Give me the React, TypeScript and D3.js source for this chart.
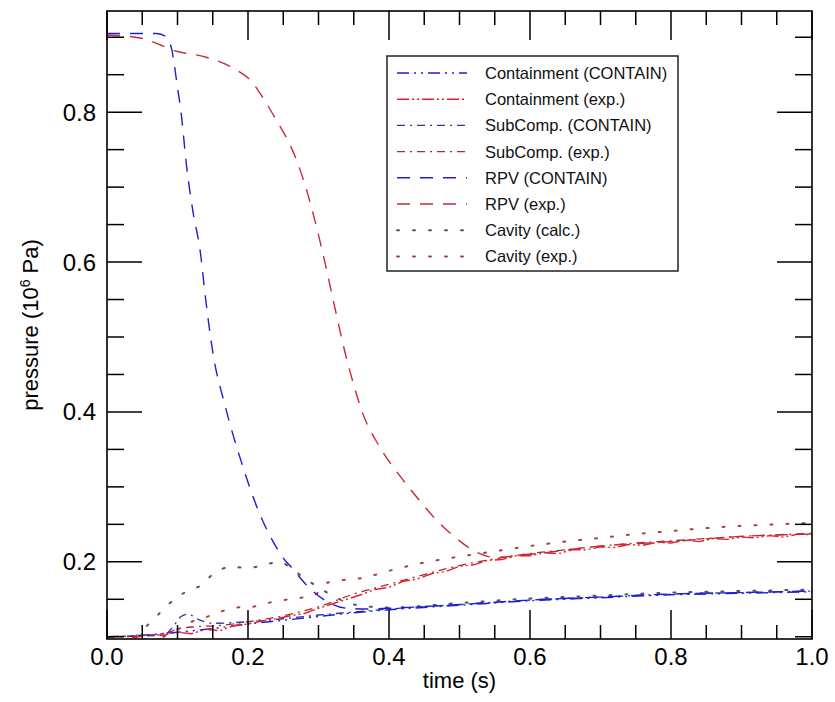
import React from "react";
import * as d3 from "d3";

// ---- data (time in s, pressure in 1e6 Pa) ----
const rpvCalcT = [0, 0.07, 0.085, 0.092, 0.1, 0.105, 0.113, 0.122, 0.132, 0.14, 0.15, 0.167, 0.19, 0.217, 0.235, 0.25, 0.264, 0.28, 0.292, 0.312, 0.34, 0.37, 0.4, 0.5, 0.6, 0.7, 0.8, 0.9, 1.0];
const rpvCalcV = [0.905, 0.905, 0.9, 0.883, 0.833, 0.8, 0.727, 0.667, 0.616, 0.55, 0.48, 0.41, 0.335, 0.263, 0.228, 0.205, 0.19, 0.172, 0.161, 0.147, 0.138, 0.137, 0.138, 0.143, 0.149, 0.153, 0.157, 0.159, 0.161];

const contCalcT = [0, 0.05, 0.1, 0.15, 0.2, 0.25, 0.3, 0.35, 0.4, 0.5, 0.6, 0.7, 0.8, 0.9, 1.0];
const contCalcV = [0.1, 0.102, 0.106, 0.111, 0.117, 0.122, 0.127, 0.132, 0.136, 0.142, 0.148, 0.152, 0.156, 0.158, 0.16];

const subCalcT = [0, 0.08, 0.095, 0.105, 0.115, 0.13, 0.15, 0.2, 0.25, 0.3, 0.35, 0.4, 0.5, 0.6, 0.7, 0.8, 0.9, 1.0];
const subCalcV = [0.1, 0.102, 0.115, 0.127, 0.13, 0.123, 0.118, 0.12, 0.124, 0.129, 0.133, 0.137, 0.143, 0.149, 0.153, 0.157, 0.159, 0.161];

const contExpT = [0, 0.02, 0.04, 0.06, 0.08, 0.1, 0.12, 0.14, 0.16, 0.18, 0.2, 0.22, 0.24, 0.26, 0.28, 0.3, 0.32, 0.34, 0.36, 0.38, 0.4, 0.42, 0.44, 0.46, 0.48, 0.5, 0.52, 0.54, 0.56, 0.58, 0.6, 0.62, 0.64, 0.66, 0.68, 0.7, 0.72, 0.74, 0.76, 0.78, 0.8, 0.82, 0.84, 0.86, 0.88, 0.9, 0.92, 0.94, 0.96, 0.98, 1.0];
const contExpV = [0.1, 0.101, 0.099, 0.103, 0.102, 0.106, 0.104, 0.11, 0.108, 0.115, 0.117, 0.121, 0.124, 0.128, 0.131, 0.138, 0.144, 0.15, 0.156, 0.163, 0.166, 0.174, 0.177, 0.184, 0.187, 0.194, 0.196, 0.202, 0.203, 0.208, 0.208, 0.212, 0.211, 0.216, 0.216, 0.22, 0.219, 0.223, 0.222, 0.226, 0.225, 0.229, 0.227, 0.231, 0.23, 0.233, 0.232, 0.235, 0.233, 0.237, 0.236];

const subExpT = [0, 0.08, 0.1, 0.12, 0.16, 0.2, 0.25, 0.3, 0.35, 0.4, 0.45, 0.5, 0.55, 0.6, 0.65, 0.7, 0.75, 0.8, 0.85, 0.9, 0.95, 1.0];
const subExpV = [0.1, 0.104, 0.11, 0.113, 0.115, 0.12, 0.128, 0.14, 0.157, 0.17, 0.183, 0.195, 0.204, 0.211, 0.216, 0.221, 0.225, 0.228, 0.231, 0.234, 0.236, 0.238];

const rpvExpT = [0, 0.047, 0.1, 0.142, 0.184, 0.203, 0.222, 0.241, 0.255, 0.265, 0.275, 0.285, 0.295, 0.309, 0.323, 0.338, 0.35, 0.362, 0.387, 0.416, 0.444, 0.47, 0.496, 0.52, 0.55, 0.6, 0.7, 0.8, 0.9, 1.0];
const rpvExpV = [0.903, 0.899, 0.881, 0.873, 0.856, 0.843, 0.818, 0.788, 0.765, 0.745, 0.72, 0.69, 0.655, 0.6, 0.54, 0.478, 0.436, 0.4, 0.353, 0.314, 0.281, 0.253, 0.231, 0.215, 0.206, 0.21, 0.221, 0.227, 0.234, 0.237];

const cavCalcT = [0.04, 0.068, 0.088, 0.11, 0.132, 0.155, 0.177, 0.2, 0.221, 0.244, 0.267, 0.29, 0.32, 0.35, 0.4, 0.5, 0.6, 0.7, 0.8, 0.9, 1.0];
const cavCalcV = [0.1, 0.125, 0.144, 0.159, 0.168, 0.187, 0.193, 0.192, 0.195, 0.2, 0.187, 0.172, 0.155, 0.143, 0.139, 0.145, 0.151, 0.155, 0.159, 0.161, 0.163];

const cavExpT = [0.08, 0.1, 0.12, 0.14, 0.16, 0.183, 0.206, 0.228, 0.251, 0.274, 0.295, 0.312, 0.338, 0.36, 0.4, 0.45, 0.5, 0.55, 0.6, 0.65, 0.7, 0.75, 0.8, 0.85, 0.9, 0.95, 1.0];
const cavExpV = [0.1, 0.11, 0.12, 0.126, 0.133, 0.139, 0.14, 0.145, 0.149, 0.152, 0.156, 0.172, 0.176, 0.178, 0.188, 0.199, 0.207, 0.214, 0.221, 0.227, 0.232, 0.237, 0.241, 0.245, 0.248, 0.25, 0.252];

const xTicks = [0, 0.2, 0.4, 0.6, 0.8, 1.0];
const yTicks = [0.2, 0.4, 0.6, 0.8];

const seriesNames = [
  "Containment (CONTAIN)",
  "Containment (exp.)",
  "SubComp. (CONTAIN)",
  "SubComp. (exp.)",
  "RPV (CONTAIN)",
  "RPV (exp.)",
  "Cavity (calc.)",
  "Cavity (exp.)",
];

const DASH_DOT_DOT = "12,5,2,5,2,5";
const DASH_DOT = "8,5,2,5";
const LONG_DASH = "13,10";
const DOTTED = "2,14";

const styles = [
  { color: "#1f1fd0", dash: DASH_DOT_DOT, w: 1.4 },
  { color: "#ee1c24", dash: "12,3,2,3,2,3", w: 1.4 },
  { color: "#33339a", dash: DASH_DOT, w: 1.3 },
  { color: "#9a3030", dash: DASH_DOT, w: 1.3 },
  { color: "#1f1fd0", dash: LONG_DASH, w: 1.4 },
  { color: "#c8283a", dash: LONG_DASH, w: 1.4 },
  { color: "#555555", dash: DOTTED, w: 2 },
  { color: "#a04444", dash: DOTTED, w: 2 },
];

const seriesData: [number[], number[]][] = [
  [contCalcT, contCalcV],
  [contExpT, contExpV],
  [subCalcT, subCalcV],
  [subExpT, subExpV],
  [rpvCalcT, rpvCalcV],
  [rpvExpT, rpvExpV],
  [cavCalcT, cavCalcV],
  [cavExpT, cavExpV],
];

export default function App() {
  const L = 107, R = 812, T = 11, B = 639;
  const x = d3.scaleLinear().domain([0, 1]).range([L, R]);
  const y = d3.scaleLinear().domain([0.097, 0.935]).range([B, T]);

  const xMinor = d3.range(0, 1.0001, 0.05).map((v) => +v.toFixed(2));
  const yMinor = d3.range(0.1, 0.9001, 0.05).map((v) => +v.toFixed(2));

  const makeLine = (i: number) => {
    const [ts, vs] = seriesData[i];
    const pts = ts.map((t, k) => [t, vs[k]] as [number, number]);
    const gen = d3
      .line<[number, number]>()
      .x((d) => x(d[0]))
      .y((d) => y(d[1]))
      .curve(i === 1 ? d3.curveLinear : d3.curveMonotoneX);
    return gen(pts) || "";
  };

  const drawOrder = [6, 7, 3, 2, 0, 4, 1, 5];
  const font = "'Liberation Sans', Arial, Helvetica, sans-serif";

  return (
    <svg
      width={835}
      height={702}
      style={{ position: "absolute", left: 0, top: 0, background: "#fff" }}
      fontFamily={font}
    >
      <rect x={0} y={0} width={835} height={702} fill="#fff" />
      <defs>
        <clipPath id="plotClip">
          <rect x={L} y={T} width={R - L} height={B - T} />
        </clipPath>
      </defs>

      <g clipPath="url(#plotClip)">
        {drawOrder.map((i) => (
          <path
            key={i}
            d={makeLine(i)}
            fill="none"
            stroke={styles[i].color}
            strokeWidth={styles[i].w}
            strokeDasharray={styles[i].dash}
            strokeLinecap={i >= 6 ? "round" : "butt"}
          />
        ))}
      </g>

      {/* ticks */}
      <g stroke="#000" strokeWidth={1.5}>
        {xMinor.map((v) => {
          const major = xTicks.some((m) => Math.abs(m - v) < 1e-6);
          const len = major ? 29 : 14;
          return (
            <g key={"xt" + v}>
              <line x1={x(v)} x2={x(v)} y1={B} y2={B - len} />
              <line x1={x(v)} x2={x(v)} y1={T} y2={T + len} />
            </g>
          );
        })}
        {yMinor.map((v) => {
          const major = yTicks.some((m) => Math.abs(m - v) < 1e-6);
          const len = major ? 35 : 17;
          return (
            <g key={"yt" + v}>
              <line x1={L} x2={L + len} y1={y(v)} y2={y(v)} />
              <line x1={R} x2={R - len} y1={y(v)} y2={y(v)} />
            </g>
          );
        })}
      </g>
      <rect x={L} y={T} width={R - L} height={B - T} fill="none" stroke="#000" strokeWidth={1.6} />

      {/* tick labels */}
      <g fontSize={24} fill="#000">
        {xTicks.map((v) => (
          <text key={"xl" + v} x={x(v)} y={B + 26} textAnchor="middle">
            {v.toFixed(1)}
          </text>
        ))}
        {yTicks.map((v) => (
          <text key={"yl" + v} x={L - 11} y={y(v) + 8.5} textAnchor="end">
            {v.toFixed(1)}
          </text>
        ))}
      </g>

      <text x={(L + R) / 2} y={688} textAnchor="middle" fontSize={22}>
        time (s)
      </text>
      <text transform={`translate(38, ${(T + B) / 2}) rotate(-90)`} textAnchor="middle" fontSize={22}>
        pressure (10
        <tspan baselineShift="super" fontSize={14}>6</tspan>
        <tspan> Pa)</tspan>
      </text>

      {/* legend */}
      <g>
        <rect x={387} y={56} width={291} height={215} fill="#fff" stroke="#222" strokeWidth={1.5} />
        {seriesNames.map((name, i) => {
          const ly = 73 + i * 26.2;
          return (
            <g key={name}>
              <line
                x1={397}
                x2={467}
                y1={ly}
                y2={ly}
                stroke={styles[i].color}
                strokeWidth={styles[i].w}
                strokeDasharray={styles[i].dash}
                strokeLinecap={i >= 6 ? "round" : "butt"}
              />
              <text x={485} y={ly + 6} fontSize={16.5} fill="#111">
                {name}
              </text>
            </g>
          );
        })}
      </g>
    </svg>
  );
}
